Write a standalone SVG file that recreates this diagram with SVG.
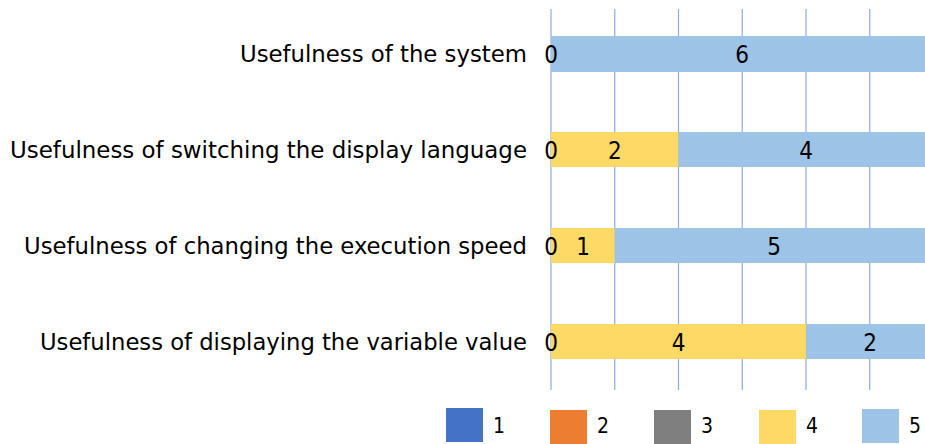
<svg xmlns="http://www.w3.org/2000/svg" width="925" height="444" viewBox="0 0 925 444">
  <style>
    text { font-family: "DejaVu Sans Condensed", "DejaVu Sans", "Liberation Sans", sans-serif; font-stretch: condensed; fill: #000; }
    .cat { font-size: 23px; text-anchor: end; }
    .val { font-size: 24px; text-anchor: middle; }
    .leg { font-size: 21px; }
    .grid { stroke: #8FAADC; stroke-width: 1.2; }
    .s4 { fill: #FFD966; }
    .s5 { fill: #9DC3E6; }
  </style>
  <rect width="925" height="444" fill="#fff"/>

  <!-- vertical gridlines, one unit = 63.75px from x=551 -->
  <g id="gridlines">
    <line class="grid" x1="551" y1="9" x2="551" y2="390"/>
    <line class="grid" x1="614.75" y1="9" x2="614.75" y2="390"/>
    <line class="grid" x1="678.5" y1="9" x2="678.5" y2="390"/>
    <line class="grid" x1="742.25" y1="9" x2="742.25" y2="390"/>
    <line class="grid" x1="806" y1="9" x2="806" y2="390"/>
    <line class="grid" x1="869.75" y1="9" x2="869.75" y2="390"/>
  </g>

  <g id="row-system">
    <text class="cat" x="527" y="62" textLength="287" lengthAdjust="spacingAndGlyphs">Usefulness of the system</text>
    <rect class="s5" x="551" y="36" width="382.5" height="36"/>
    <text class="val" x="551" y="63">0</text>
    <text class="val" x="742" y="63">6</text>
  </g>

  <g id="row-language">
    <text class="cat" x="527" y="158" textLength="517" lengthAdjust="spacingAndGlyphs">Usefulness of switching the display language</text>
    <rect class="s4" x="551" y="132" width="127.5" height="35"/>
    <rect class="s5" x="678.5" y="132" width="255" height="35"/>
    <text class="val" x="551" y="159">0</text>
    <text class="val" x="614.75" y="159">2</text>
    <text class="val" x="806" y="159">4</text>
  </g>

  <g id="row-speed">
    <text class="cat" x="527" y="254" textLength="503" lengthAdjust="spacingAndGlyphs">Usefulness of changing the execution speed</text>
    <rect class="s4" x="551" y="228" width="63.75" height="35"/>
    <rect class="s5" x="614.75" y="228" width="318.75" height="35"/>
    <text class="val" x="551" y="255">0</text>
    <text class="val" x="583" y="255">1</text>
    <text class="val" x="774" y="255">5</text>
  </g>

  <g id="row-variable">
    <text class="cat" x="527" y="350" textLength="487" lengthAdjust="spacingAndGlyphs">Usefulness of displaying the variable value</text>
    <rect class="s4" x="551" y="324" width="255" height="35"/>
    <rect class="s5" x="806" y="324" width="127.5" height="35"/>
    <text class="val" x="551" y="351">0</text>
    <text class="val" x="678.5" y="351">4</text>
    <text class="val" x="870" y="351">2</text>
  </g>

  <g id="legend">
    <rect x="446" y="408" width="37" height="34" fill="#4472C4"/>
    <text class="leg" x="493" y="433">1</text>
    <rect x="550" y="410" width="37" height="34" fill="#ED7D31"/>
    <text class="leg" x="597" y="433">2</text>
    <rect x="654" y="410" width="37" height="34" fill="#7F7F7F"/>
    <text class="leg" x="701" y="433">3</text>
    <rect class="s4" x="759" y="410" width="37" height="34"/>
    <text class="leg" x="806" y="433">4</text>
    <rect class="s5" x="862" y="409" width="37" height="34"/>
    <text class="leg" x="909" y="433">5</text>
  </g>
</svg>
